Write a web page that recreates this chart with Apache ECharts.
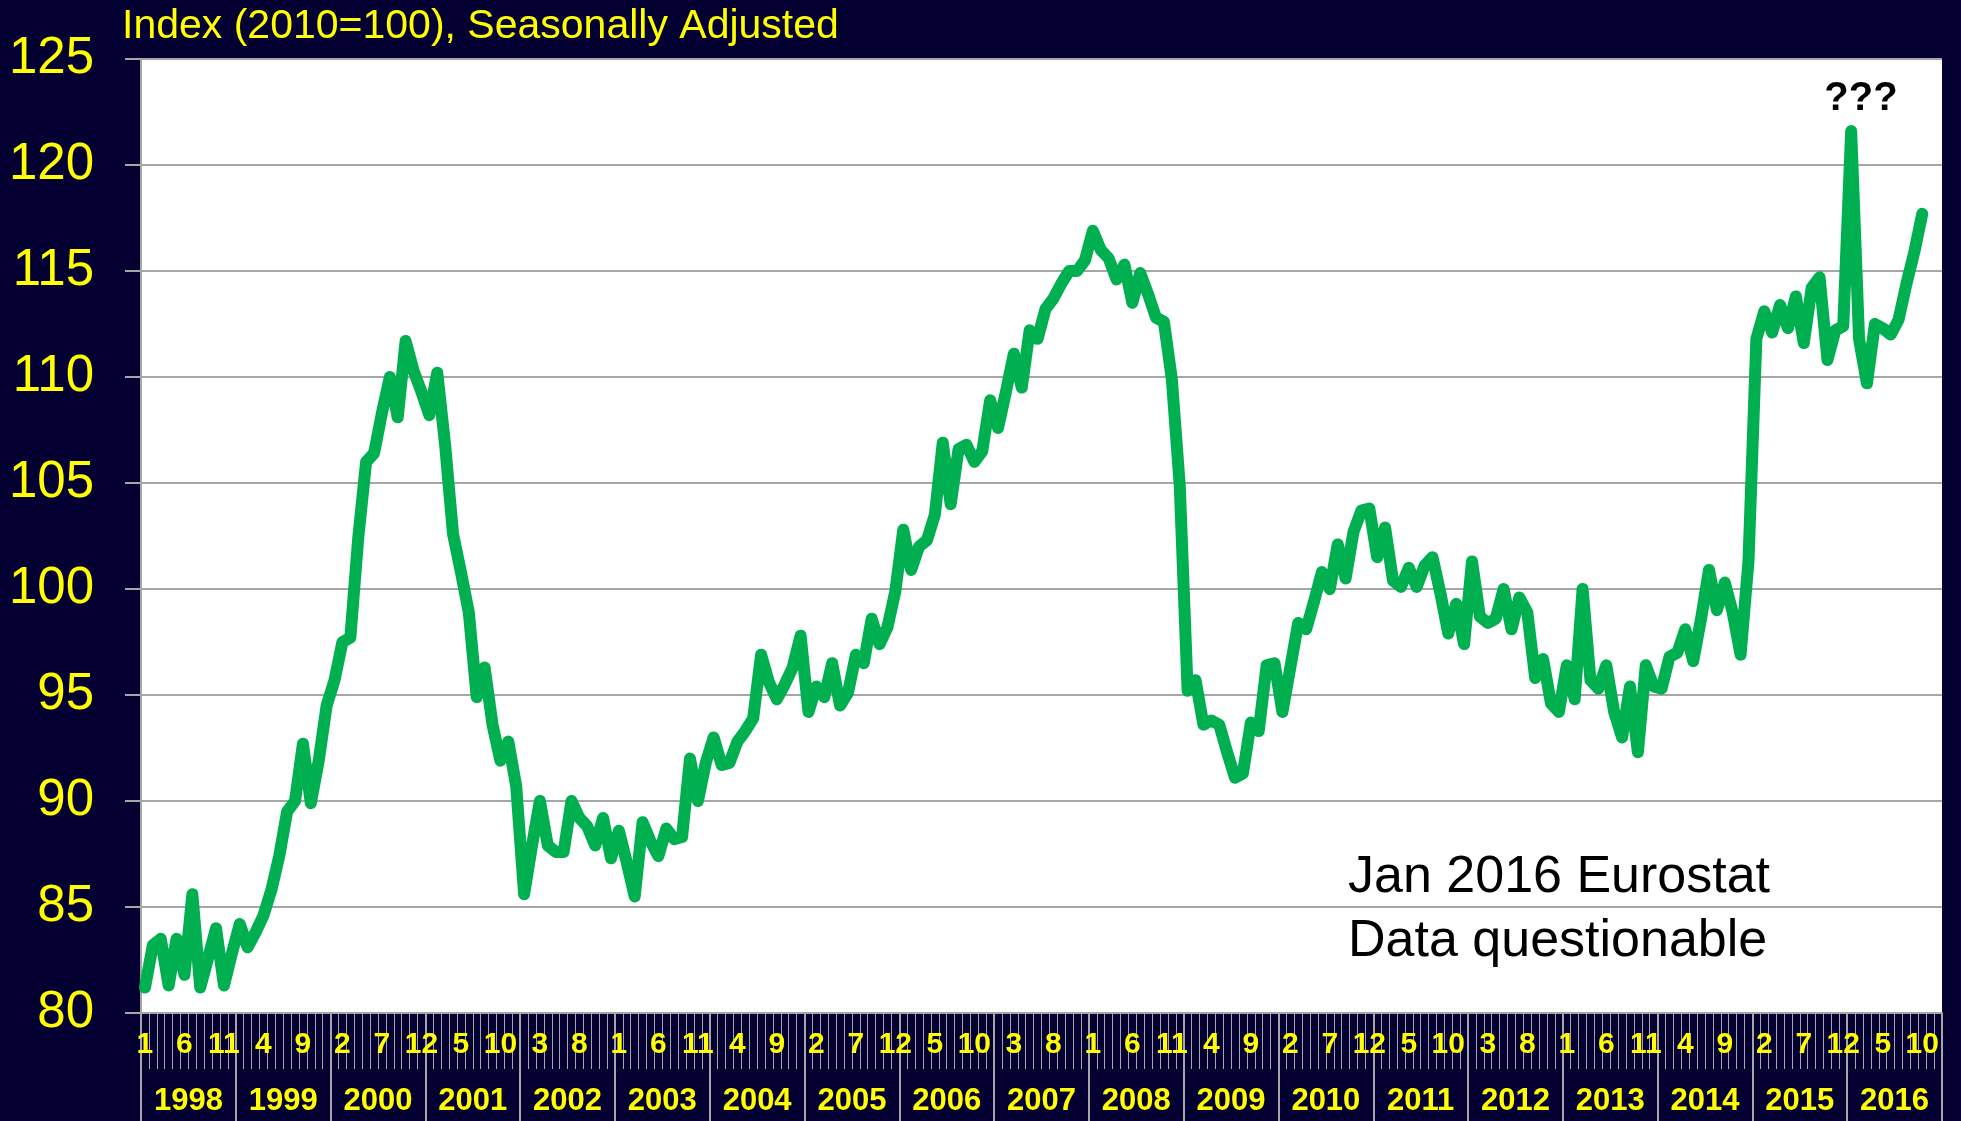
<!DOCTYPE html>
<html>
<head>
<meta charset="utf-8">
<title>Index (2010=100), Seasonally Adjusted</title>
<script src="https://cdn.jsdelivr.net/npm/echarts@6/dist/echarts.min.js"></script>
<style>
  html, body { margin: 0; padding: 0; background: #050032; }
  #main { width: 1961px; height: 1121px; }
</style>
</head>
<body>
<div id="main"></div>
<script>
// year row under the month numbers
var years = ['1998', '1999', '2000', '2001', '2002', '2003', '2004', '2005', '2006', '2007',
  '2008', '2009', '2010', '2011', '2012', '2013', '2014', '2015', '2016'];
var monthNames = ['1', '2', '3', '4', '5', '6', '7', '8', '9', '10', '11', '12'];

// monthly index values
var y1998 = [81.2, 83.2, 83.5, 81.3, 83.5, 81.8, 85.6, 81.2, 82.6, 84.0, 81.3, 82.8];
var y1999 = [84.2, 83.1, 83.8, 84.6, 85.8, 87.4, 89.5, 90.0, 92.7, 89.9, 91.9, 94.5];
var y2000 = [95.7, 97.5, 97.7, 102.4, 106.0, 106.4, 108.3, 110.0, 108.1, 111.7, 110.3, 109.3];
var y2001 = [108.2, 110.2, 106.8, 102.6, 100.8, 98.9, 94.9, 96.3, 93.6, 91.9, 92.8, 90.7];
var y2002 = [85.6, 87.9, 90.0, 87.9, 87.6, 87.6, 90.0, 89.2, 88.8, 87.9, 89.2, 87.3];
var y2003 = [88.6, 87.1, 85.5, 89.0, 88.1, 87.4, 88.7, 88.2, 88.3, 92.0, 90.0, 91.8];
var y2004 = [93.0, 91.7, 91.8, 92.8, 93.3, 93.9, 96.9, 95.6, 94.8, 95.5, 96.3, 97.8];
var y2005 = [94.2, 95.4, 94.9, 96.5, 94.5, 95.1, 96.9, 96.5, 98.6, 97.4, 98.2, 99.9];
var y2006 = [102.8, 100.9, 102.0, 102.3, 103.5, 106.9, 104.0, 106.6, 106.8, 106.0, 106.5, 108.9];
var y2007 = [107.6, 109.3, 111.1, 109.5, 112.2, 111.8, 113.2, 113.7, 114.4, 115.0, 115.0, 115.5];
var y2008 = [116.9, 116.0, 115.6, 114.6, 115.3, 113.5, 114.9, 113.9, 112.8, 112.6, 109.9, 104.9];
var y2009 = [95.2, 95.7, 93.6, 93.8, 93.6, 92.3, 91.1, 91.3, 93.7, 93.3, 96.4, 96.5];
var y2010 = [94.2, 96.3, 98.4, 98.1, 99.4, 100.8, 100.0, 102.1, 100.5, 102.7, 103.7, 103.8];
var y2011 = [101.5, 102.9, 100.4, 100.1, 101.0, 100.1, 101.1, 101.5, 99.8, 97.9, 99.3, 97.4];
var y2012 = [101.3, 98.7, 98.4, 98.6, 100.0, 98.1, 99.6, 98.9, 95.8, 96.7, 94.6, 94.2];
var y2013 = [96.4, 94.8, 100.0, 95.7, 95.3, 96.4, 94.2, 93.0, 95.4, 92.3, 96.4, 95.4];
var y2014 = [95.3, 96.8, 97.0, 98.1, 96.6, 98.6, 100.9, 99.0, 100.3, 98.9, 96.9, 101.3];
var y2015 = [111.8, 113.1, 112.1, 113.4, 112.3, 113.8, 111.6, 114.2, 114.7, 110.8, 112.2, 112.4];
var y2016 = [121.6, 111.8, 109.7, 112.5, 112.3, 112.0, 112.7, 114.4, 115.9, 117.7]; // to Oct

var months = [];
years.forEach(function () {
  months = months.concat(monthNames);
});
var values = [].concat(y1998, y1999, y2000, y2001, y2002, y2003, y2004, y2005, y2006, y2007,
  y2008, y2009, y2010, y2011, y2012, y2013, y2014, y2015, y2016);

var yellow = '#FFFF00';
var gray = '#A6A6A6';
var font = 'Liberation Sans, Arial, sans-serif';

var chart = echarts.init(document.getElementById('main'), null, { renderer: 'canvas' });

var option = {
  backgroundColor: '#050032',
  animation: false,
  title: {
    text: 'Index (2010=100), Seasonally Adjusted',
    left: 117,
    top: 1,
    textStyle: { color: yellow, fontSize: 41, fontWeight: 'normal', fontFamily: font }
  },
  grid: {
    left: 141, right: 19, top: 59, bottom: 108,
    show: true, backgroundColor: '#ffffff', borderWidth: 0
  },
  xAxis: [
    {
      // months
      type: 'category',
      data: months,
      boundaryGap: true,
      position: 'bottom',
      axisLine: { show: true, lineStyle: { color: gray, width: 2 } },
      axisTick: { show: true, interval: 0, length: 56, lineStyle: { color: gray, width: 1 } },
      axisLabel: {
        interval: function (i) { return i % 5 === 0; },
        color: yellow, fontSize: 30, fontWeight: 'bold', fontFamily: font, margin: 17
      },
      splitLine: { show: false }
    },
    {
      // years
      type: 'category',
      data: years,
      boundaryGap: true,
      position: 'bottom',
      axisLine: { show: false },
      axisTick: { show: true, interval: 0, length: 108, lineStyle: { color: gray, width: 2 } },
      axisLabel: { interval: 0, color: yellow, fontSize: 31, fontWeight: 'bold', fontFamily: font, margin: 73 },
      splitLine: { show: false }
    }
  ],
  yAxis: {
    type: 'value',
    min: 80,
    max: 125,
    interval: 5,
    axisLine: { show: true, lineStyle: { color: gray, width: 2 } },
    axisTick: { show: true, length: 16, lineStyle: { color: gray, width: 2 } },
    axisLabel: { color: yellow, fontSize: 51, fontFamily: font, margin: 47 },
    splitLine: { show: true, lineStyle: { color: gray, width: 2 } }
  },
  series: [
    {
      type: 'line',
      data: values,
      xAxisIndex: 0,
      showSymbol: false,
      symbol: 'none',
      lineStyle: { color: '#00B050', width: 12, cap: 'round', join: 'round' },
      z: 3
    }
  ],
  graphic: [
    {
      type: 'text',
      x: 1861, y: 99,
      style: {
        text: '???', fill: '#000', font: 'bold 40px ' + font,
        textAlign: 'center', textVerticalAlign: 'middle'
      },
      z: 10
    },
    {
      type: 'text',
      x: 1348, y: 846,
      style: {
        text: 'Jan 2016 Eurostat\nData questionable', fill: '#000',
        font: '52px ' + font, lineHeight: 64,
        textAlign: 'left', textVerticalAlign: 'top'
      },
      z: 10
    }
  ]
};
chart.setOption(option);
</script>
</body>
</html>
